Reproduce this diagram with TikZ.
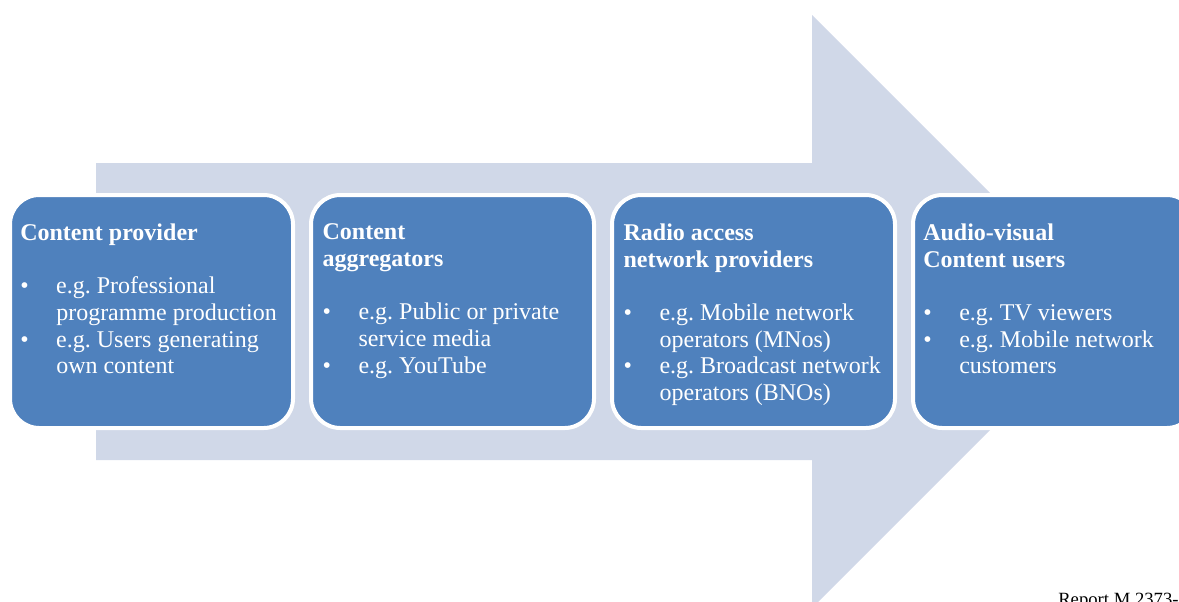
\documentclass[tikz,border=0pt]{standalone}
\usepackage{fontspec}
\setmainfont{Liberation Serif}
\usetikzlibrary{positioning}
\frenchspacing

\definecolor{boxblue}{HTML}{4F81BD}
\definecolor{arrowgrey}{HTML}{D0D8E8}

\tikzstyle{stage} = [rectangle, draw=white, line width=3pt, fill=boxblue, rounded corners=22pt, minimum width=212.25pt, minimum height=174.75pt, inner sep=0pt, outer sep=0pt]
\tikzstyle{stagetext} = [anchor=north west, align=left, inner sep=0pt, text=white, font=\fontsize{18pt}{20pt}\selectfont, execute at begin node=\strut]

\newcommand{\itm}{\makebox[27pt][l]{\textbullet}}
\newcommand{\cnt}{\hspace*{27pt}}

\begin{document}
\begin{tikzpicture}[x=0.75pt,y=-0.75pt]
        \tikzset{node distance = 13.5pt}
        \useasboundingbox (0,0) rectangle (1179,601);
        \clip (0,0) rectangle (1179,601);
        % Big arrow in the background
        \fill[arrowgrey] (96,163) -- (812,163) -- (812,15) -- (1108.5,311.5) -- (812,608) -- (812,460) -- (96,460) -- cycle;
        % The four stages
        \node[stage, anchor=north west] (cp) at (10,195) {};
        \node[stage, right=of cp] (ca) {};
        \node[stage, right=of ca] (ran) {};
        \node[stage, right=of ran] (avu) {};
        % Texts of the stages
        \node[stagetext] (cptext) at ([xshift=7.5pt, yshift=-21.5pt]cp.north west) {
            \textbf{Content provider}\\[20pt]
            \itm e.g. Professional\\
            \cnt programme production\\
            \itm e.g. Users generating\\
            \cnt own content};
        \node[stagetext] (catext) at ([xshift=8.5pt, yshift=-21.5pt]ca.north west) {
            \textbf{Content}\\
            \textbf{aggregators}\\[20pt]
            \itm e.g. Public or private\\
            \cnt service media\\
            \itm e.g. YouTube};
        \node[stagetext] (rantext) at ([xshift=8.5pt, yshift=-21.5pt]ran.north west) {
            \textbf{Radio access}\\
            \textbf{network providers}\\[20pt]
            \itm e.g. Mobile network\\
            \cnt operators (MNos)\\
            \itm e.g. Broadcast network\\
            \cnt operators (BNOs)};
        \node[stagetext] (avutext) at ([xshift=7.5pt, yshift=-21.5pt]avu.north west) {
            \textbf{Audio-visual}\\
            \textbf{Content users}\\[20pt]
            \itm e.g. TV viewers\\
            \itm e.g. Mobile network\\
            \cnt customers};
        \node[anchor=base west, inner sep=0pt, font=\fontsize{14pt}{16pt}\selectfont] (report) at (1058,605) {Report M.2373-};
\end{tikzpicture}
\end{document}
